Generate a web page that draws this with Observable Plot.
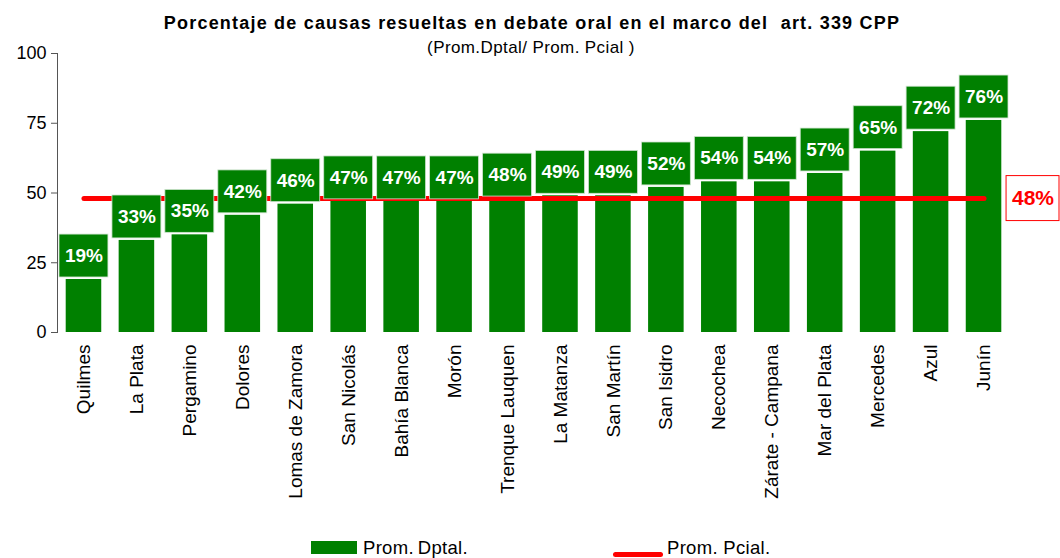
<!DOCTYPE html>
<html>
<head>
<meta charset="utf-8">
<script src="https://cdn.jsdelivr.net/npm/d3@7"></script>
<script src="https://cdn.jsdelivr.net/npm/@observablehq/plot@0.6"></script>
<style>
  html, body { margin: 0; padding: 0; background: #fff; }
  body { width: 1060px; height: 558px; overflow: hidden; font-family: "Liberation Sans", Arial, sans-serif; color: #000; }
  #header { position: relative; height: 46px; }
  #title { position: absolute; left: 0; width: 1060px; top: 13px; text-align: center; font-size: 18px; font-weight: bold; line-height: 20px; letter-spacing: 1.2px; padding-left: 4px; box-sizing: border-box; }
  #subtitle { position: absolute; left: 0; width: 1060px; top: 38px; text-align: center; font-size: 17px; line-height: 19px; letter-spacing: 0.4px; padding-left: 2px; box-sizing: border-box; }
  #chart svg { display: block; overflow: visible; }
  #legend { position: relative; height: 32px; }
  .sw-bar { position: absolute; left: 311px; top: 15px; width: 46px; height: 13px; background: #008000; }
  .sw-line { position: absolute; left: 613px; top: 26px; width: 50px; height: 5px; border-radius: 3px; background: #ff0000; }
  .lg-text { position: absolute; top: 12px; font-size: 18.5px; line-height: 20px; letter-spacing: 0.3px; }
</style>
</head>
<body>
<div id="header">
  <div id="title">Porcentaje de causas resueltas en debate oral en el marco del&nbsp; art. 339 CPP</div>
  <div id="subtitle">(Prom.Dptal/ Prom. Pcial )</div>
</div>
<div id="chart"></div>
<div id="legend">
  <div class="sw-bar"></div><div class="lg-text" style="left:363px">Prom.&thinsp;Dptal.</div>
  <div class="sw-line"></div><div class="lg-text" style="left:667px">Prom. Pcial.</div>
</div>
<script>
const categories = ["Quilmes", "La Plata", "Pergamino", "Dolores", "Lomas de Zamora", "San Nicolás", "Bahía Blanca", "Morón", "Trenque Lauquen", "La Matanza", "San Martín", "San Isidro", "Necochea", "Zárate - Campana", "Mar del Plata", "Mercedes", "Azul", "Junín"];
const values = [19, 33, 35, 42, 46, 47, 47, 47, 48, 49, 49, 52, 54, 54, 57, 65, 72, 76];
const provincialAvg = 48;
const yTicks = [0, 25, 50, 75, 100];

const data = categories.map((c, i) => ({dept: c, value: values[i]}));
const lastCat = categories[categories.length - 1];

const chart = Plot.plot({
  width: 1060,
  height: 480,
  marginTop: 7,
  marginBottom: 194,
  marginLeft: 57,
  marginRight: 50,
  style: {fontFamily: "'Liberation Sans', Arial, sans-serif", fontSize: "18px", color: "#000", background: "white", overflow: "visible"},
  x: {domain: categories, padding: 0, round: false, label: null},
  y: {domain: [0, 100], label: null},
  marks: [
    Plot.frame({anchor: "left", stroke: "#555"}),
    Plot.axisY({ticks: yTicks, tickSize: 6, tickPadding: 5, label: null, fontSize: 18, stroke: "#555"}),
    Plot.axisX({tickRotate: -90, tickSize: 0, tickPadding: 12, label: null, fontSize: 19}),
    Plot.barY(data, {x: "dept", y: "value", fill: "#008000", insetLeft: 8.7, insetRight: 8.7}),
    Plot.lineY(data, {x: "dept", y: () => provincialAvg, stroke: "#ff0000", strokeWidth: 5, strokeLinecap: "round"}),
    Plot.barY(data, {x: "dept", y1: d => d.value + 0.72, y2: d => d.value + 16.1, fill: "#008000", stroke: "#cfe4cf", strokeWidth: 0.8, insetLeft: 2, insetRight: 2}),
    Plot.text(data, {x: "dept", y: "value", text: d => d.value + "%", dy: -23.5, fill: "white", fontWeight: "bold", fontSize: 19}),
    Plot.barY([provincialAvg], {x: () => lastCat, y1: d => d - 8.06, y2: d => d + 8.06, fill: "white", stroke: "#ff0000", strokeWidth: 1, insetLeft: 49, insetRight: -49}),
    Plot.text([provincialAvg], {x: () => lastCat, y: d => d, text: d => d + "%", dx: 49, fill: "#ff0000", fontWeight: "bold", fontSize: 21})
  ]
});
document.getElementById("chart").appendChild(chart);
</script>
</body>
</html>
